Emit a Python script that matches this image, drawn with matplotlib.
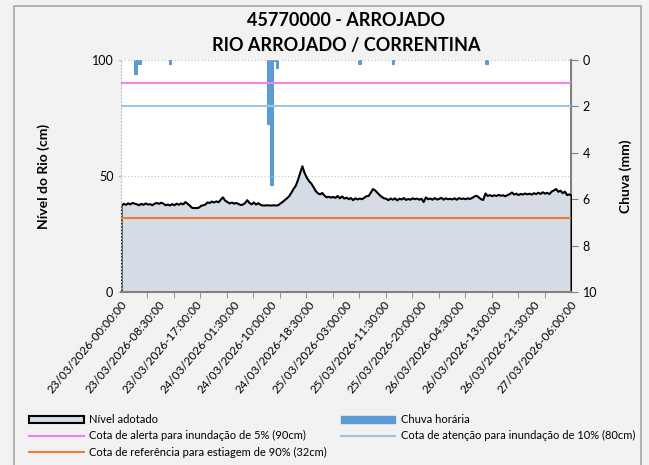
import matplotlib.pyplot as plt
import numpy as np
from matplotlib.patches import Patch, Rectangle
from matplotlib.lines import Line2D

# nível do rio (cm), a cada 30 min desde 23/03/2026 00:00
nivel = [
    37.5, 38.2, 37.8, 38.4, 38.0, 38.6, 38.3, 38.0, 37.6, 38.2, 37.8, 38.4,
    37.9, 38.1, 37.6, 38.3, 38.6, 38.2, 38.7, 38.3, 37.6, 37.9, 37.5, 38.1,
    37.6, 38.3, 37.8, 38.4, 38.0, 39.0, 38.2, 37.4, 36.5, 36.4, 36.4, 36.5,
    37.3, 37.6, 37.9, 38.8, 38.6, 39.2, 38.8, 39.3, 38.9, 40.0, 41.0, 39.6,
    39.0, 38.4, 38.8, 38.3, 38.6, 38.2, 37.7, 37.9, 38.5, 39.8, 38.6, 38.0,
    38.8, 37.9, 38.5, 37.8, 37.5, 37.5, 37.6, 37.5, 37.5, 37.6, 37.5, 37.6,
    38.3, 39.0, 39.8, 40.6, 41.5, 43.0, 44.6, 46.0, 48.5, 51.5, 54.4, 51.5,
    49.5, 48.0, 47.0, 45.5, 43.8, 42.8, 42.3, 42.9, 41.8, 41.0, 41.3, 40.9,
    41.2, 40.8, 41.6, 40.6, 41.4, 40.5, 40.9, 40.2, 40.7, 39.8, 40.6, 40.1,
    40.5, 40.2, 40.8, 41.5, 41.6, 43.0, 44.6, 44.0, 43.0, 42.0, 41.2, 40.6,
    40.4, 39.8, 40.5, 40.0, 40.6, 39.7, 40.4, 40.1, 40.7, 39.9, 40.3, 40.0,
    40.6, 40.2, 40.5, 40.0, 40.4, 39.0, 41.0, 40.2, 40.5, 40.0, 40.7, 40.1,
    40.3, 40.8, 40.0, 40.6, 40.2, 40.4, 40.1, 40.6, 40.0, 40.7, 40.3, 40.5,
    40.2, 40.6, 40.3, 40.8, 41.4, 41.7, 41.0, 40.2, 39.9, 42.7, 41.6, 42.0,
    41.5, 41.9, 41.6, 42.1, 41.7, 41.9, 41.5, 42.0, 42.4, 43.1, 42.2, 42.6,
    42.0, 42.5, 42.2, 42.7, 42.3, 42.6, 42.2, 42.8, 42.4, 43.0, 42.5, 43.2,
    42.6, 43.0, 42.4, 43.5, 44.0, 44.6, 43.4, 43.9, 42.8, 43.5, 42.0, 42.3,
    41.7,
]
horas = np.arange(len(nivel)) * 0.5

# chuva horária (mm)
chuva_h = [3.4, 4.35, 11.2, 33.5, 34.2, 34.9, 35.5, 54.2, 61.8, 83.0]
chuva_mm = [0.65, 0.2, 0.2, 2.8, 5.45, 0.1, 0.4, 0.2, 0.2, 0.2]

cota_alerta = 90
cota_atencao = 80
cota_estiagem = 32

rotulos_x = [
    "23/03/2026-00:00:00", "23/03/2026-08:30:00", "23/03/2026-17:00:00",
    "24/03/2026-01:30:00", "24/03/2026-10:00:00", "24/03/2026-18:30:00",
    "25/03/2026-03:00:00", "25/03/2026-11:30:00", "25/03/2026-20:00:00",
    "26/03/2026-04:30:00", "26/03/2026-13:00:00", "26/03/2026-21:30:00",
    "27/03/2026-06:00:00",
]

plt.rcParams['font.family'] = ['Lato', 'DejaVu Sans']

fig = plt.figure(figsize=(6.49, 4.65), dpi=100, facecolor='#f2f2f2')
ax = fig.add_axes([121 / 649, 1 - 292 / 465, 450 / 649, 232 / 465])
ax2 = ax.twinx()
ax.set_zorder(ax2.get_zorder() + 1)
ax.patch.set_visible(False)
ax2.patch.set_facecolor('white')
ax2.patch.set_visible(True)

fill_cor = '#d6dce5'
ax.fill_between(horas, nivel, 0, facecolor=fill_cor, edgecolor='black', linewidth=1.5, zorder=2)
ax.axhline(cota_alerta, color='#ee82ee', lw=1.5, zorder=3)
ax.axhline(cota_atencao, color='#9dc3e6', lw=1.5, zorder=3)
ax.axhline(cota_estiagem, color='#ed7d31', lw=1.5, zorder=3)
for v in (50, 100):
    ax.axhline(v, color='#bfbfbf', lw=0.8, ls=(0, (1, 2)), zorder=1)

ax.set_xlim(0, 102)
ax.set_ylim(0, 100)
ax.set_yticks([0, 50, 100])
ax.set_xticks(np.arange(13) * 8.5)
ax.set_xticklabels(rotulos_x, rotation=50, ha='right', rotation_mode='anchor', fontsize=8.5)
ax.set_xticks(np.arange(0, 103, 6), minor=True)
ax.tick_params(axis='x', which='major', length=0, pad=5)
ax.tick_params(axis='x', which='minor', length=4, color='#808080')
ax.tick_params(axis='y', length=2, color='#bfbfbf', labelsize=9)
ax.set_ylabel('Nível do Rio (cm)', fontsize=10, fontweight='bold', labelpad=30)

for s in ('top', 'right'):
    ax.spines[s].set_visible(False)
ax.spines['left'].set_linestyle((0, (1, 2)))
ax.spines['left'].set_color('#bfbfbf')
ax.spines['bottom'].set_color('#808080')
ax.spines['bottom'].set_linewidth(1.5)

ax2.bar(chuva_h, chuva_mm, width=0.8, color='#5b9bd5', zorder=2)
ax2.set_ylim(10, 0)
ax2.set_yticks([0, 2, 4, 6, 8, 10])
ax2.tick_params(axis='y', length=5, color='#808080', labelsize=9)
ax2.set_ylabel('Chuva (mm)', fontsize=10, fontweight='bold', labelpad=16)
for s in ('top', 'left', 'bottom'):
    ax2.spines[s].set_visible(False)
ax2.spines['right'].set_color('#808080')
ax2.spines['right'].set_linewidth(1.5)

fig.text(346 / 649, 1 - 20 / 465, '45770000 - ARROJADO', ha='center', va='center',
         fontsize=13, fontweight='bold')
fig.text(346 / 649, 1 - 45 / 465, 'RIO ARROJADO / CORRENTINA', ha='center', va='center',
         fontsize=13, fontweight='bold')

handles = [
    Patch(facecolor=fill_cor, edgecolor='black', linewidth=1.5),
    Line2D([], [], color='#ee82ee', lw=1.5),
    Line2D([], [], color='#ed7d31', lw=1.5),
    Patch(facecolor='#5b9bd5', edgecolor='#5b9bd5'),
    Line2D([], [], color='#9dc3e6', lw=1.5),
]
labels = [
    'Nível adotado',
    'Cota de alerta para inundação de 5% (90cm)',
    'Cota de referência para estiagem de 90% (32cm)',
    'Chuva horária',
    'Cota de atenção para inundação de 10% (80cm)',
]
fig.legend(handles, labels, ncol=2, loc='upper left', bbox_to_anchor=(25 / 649, 1 - 410 / 465),
           frameon=False, handlelength=4.9, columnspacing=1.2, handletextpad=0.5,
           labelspacing=0.45, borderaxespad=0, prop={'family': ['Lato', 'DejaVu Sans'], 'size': 8})

fig.add_artist(Rectangle((14 / 649, -0.01), 627 / 649, 1 - 6 / 465 + 0.01, transform=fig.transFigure,
                         fill=False, edgecolor='#a6a6a6', lw=1.2))

fig.savefig('out.png', dpi=100, facecolor=fig.get_facecolor())
